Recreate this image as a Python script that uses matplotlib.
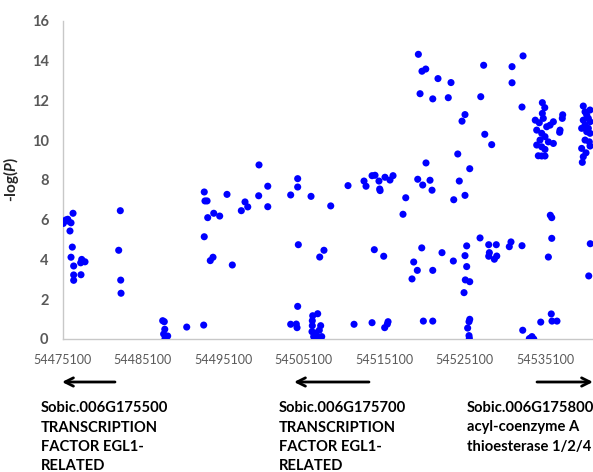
import matplotlib
matplotlib.use("Agg")
import matplotlib.pyplot as plt
from matplotlib.patches import FancyArrowPatch

plt.rcParams['font.family'] = ['Lato', 'DejaVu Sans']
plt.rcParams['mathtext.fontset'] = 'custom'
plt.rcParams['mathtext.bfit'] = 'Lato:bold:italic'

# SNP positions (bp) on chromosome 6 and their -log10(P)
position = [
    54475200, 54475500, 54475750, 54476160, 54476410, 54476030, 54476320, 54476160,
    54476490, 54477490, 54477360, 54477900, 54476490, 54476490, 54477400, 54475800,
    54482290, 54482090, 54482340, 54482380, 54487560, 54487760, 54487820, 54487680,
    54488180, 54487850, 54490550,
    54499540, 54492730, 54492820, 54493080, 54495560, 54500630, 54499500, 54497800,
    54497340, 54498140, 54500630, 54493910, 54494650, 54493160, 54492730, 54493820,
    54493480, 54496220, 54492660,
    54504350, 54504350, 54503480, 54506010, 54508460, 54510610, 54512600, 54512850,
    54513600, 54513970, 54514460, 54514550, 54514600, 54515210, 54515830, 54516210,
    54504430, 54507620, 54507090, 54513880, 54515050, 54504350, 54503480, 54504180,
    54504270, 54506840, 54506220, 54506170, 54506170, 54506130, 54506340, 54506470,
    54506720, 54507210, 54507040, 54507340, 54507040, 54511360, 54513600, 54515590,
    54515500, 54515170, 54506570, 54506880,
    54519360, 54519810, 54520280, 54521800, 54523420, 54519570, 54521150, 54523080,
    54527480, 54531010, 54532380, 54531010, 54527120, 54532250, 54525160, 54524790,
    54527620, 54528480, 54524260, 54520310, 54525750, 54519280, 54519900, 54520810,
    54521060, 54523760, 54525160, 54524450, 54517790, 54517450, 54527030, 54528110,
    54529050, 54530880, 54530670, 54532250, 54519780, 54525370, 54522300, 54525160,
    54528190, 54528110, 54529110, 54528810, 54518780, 54523710, 54519230, 54521150,
    54525370, 54518570, 54525200, 54525750, 54525040, 54519980, 54521150, 54525750,
    54525660, 54525490, 54525660, 54525700, 54532340, 54533160, 54533330, 54533710,
    54533490, 54534580, 54535890, 54535980, 54536600, 54535530, 54535950, 54535770,
    54535950, 54540740, 54540550,
    54534780, 54535080, 54534780, 54533900, 54534400, 54534900, 54536150, 54537310,
    54537260, 54534080, 54535320, 54535740, 54536980, 54536930, 54534700, 54535110,
    54534490, 54535530, 54536150, 54534080, 54534700, 54535110, 54534280, 54534700,
    54535110,
    54539870, 54540710, 54540090, 54540300, 54540500, 54539870, 54540710, 54540090,
    54539670, 54540500, 54540300, 54540710, 54540090, 54540620, 54540710, 54539670,
    54540210, 54539870, 54539750,
]

neg_log_p = [
    5.81, 5.98, 6.02, 5.84, 6.32, 5.43, 4.62, 4.11,
    3.67, 4.00, 3.83, 3.88, 3.22, 2.95, 3.23, 5.93,
    6.45, 4.46, 2.96, 2.30, 0.92, 0.87, 0.49, 0.25,
    0.15, 0.02, 0.60,
    8.75, 7.39, 6.94, 6.94, 7.27, 7.68, 7.20, 6.89,
    6.45, 6.64, 6.65, 6.32, 6.18, 6.10, 5.14, 4.11,
    3.94, 3.72, 0.70,
    8.06, 7.64, 7.24, 7.17, 6.69, 7.71, 7.94, 7.68,
    8.21, 8.23, 7.94, 7.54, 7.46, 8.13, 7.99, 8.21,
    4.74, 4.46, 4.12, 4.49, 4.16, 1.64, 0.74, 0.75,
    0.57, 1.27, 1.17, 0.92, 0.67, 0.37, 0.12, 0.00,
    0.15, 0.67, 0.44, 0.12, 0.00, 0.74, 0.82, 0.87,
    0.75, 0.57, 0.30, 0.05,
    14.31, 13.46, 13.57, 13.09, 12.89, 12.33, 12.07, 12.13,
    13.76, 13.69, 14.23, 12.88, 12.18, 11.66, 11.28, 10.95,
    10.29, 9.77, 9.30, 8.85, 8.56, 8.03, 7.74, 7.98,
    7.48, 7.00, 7.22, 7.94, 7.10, 6.27, 5.08, 4.74,
    4.74, 4.88, 4.64, 4.69, 4.58, 4.68, 4.34, 4.19,
    4.34, 4.16, 4.17, 4.01, 3.87, 3.92, 3.45, 3.45,
    3.64, 3.02, 2.97, 2.88, 2.33, 0.90, 0.90, 0.99,
    0.87, 0.55, 0.17, 0.04, 0.44, 0.02, 0.04, 0.00,
    0.12, 0.85, 1.26, 0.90, 0.90, 4.12, 5.06, 6.22,
    6.10, 4.79, 3.17,
    11.88, 11.63, 11.34, 11.00, 10.87, 11.09, 10.92, 11.27,
    11.09, 10.50, 10.67, 10.75, 10.50, 10.39, 10.34, 10.17,
    10.00, 9.91, 9.83, 9.75, 9.66, 9.53, 9.21, 9.20,
    9.20,
    11.71, 11.51, 11.42, 11.26, 11.09, 11.00, 10.92, 10.75,
    10.59, 10.59, 10.42, 10.34, 10.00, 9.91, 9.70, 9.58,
    9.36, 9.16, 8.88,
]

x_ticks = [54475100, 54485100, 54495100, 54505100, 54515100, 54525100, 54535100]
y_ticks = [0, 2, 4, 6, 8, 10, 12, 14, 16]

# gene annotations: (label, text anchor x, arrow tail x, arrow head x) in figure pixels
genes = [
    ("Sobic.006G175500\nTRANSCRIPTION\nFACTOR EGL1-\nRELATED", 41, 115, 62),
    ("Sobic.006G175700\nTRANSCRIPTION\nFACTOR EGL1-\nRELATED", 279, 369, 294),
    ("Sobic.006G175800\nacyl-coenzyme A\nthioesterase 1/2/4", 467, 537, 593),
]

W, H = 593, 472
fig = plt.figure(figsize=(W / 100, H / 100), dpi=100)
ax = fig.add_axes([62.5 / W, 1 - 339 / H, 1 - 62.5 / W, (339 - 20.7) / H])

ax.scatter(position, neg_log_p, s=26, color="#0000FF", edgecolors="none", zorder=3)

ax.set_xlim(54475100, 54541080)
ax.set_ylim(0, 16)
ax.set_xticks(x_ticks)
ax.set_xticklabels([str(v) for v in x_ticks])
ax.set_yticks(y_ticks)
ax.set_yticklabels([str(v) for v in y_ticks])

for side in ("top", "right"):
    ax.spines[side].set_visible(False)
for side in ("left", "bottom"):
    ax.spines[side].set_color("#C8C8C8")
    ax.spines[side].set_linewidth(1.0)

ax.tick_params(axis="x", length=0, pad=10.5, labelsize=9, labelcolor="#595959")
ax.tick_params(axis="y", length=0, pad=10, labelsize=10.5, labelcolor="#595959")
for lab in ax.get_yticklabels():
    lab.set_fontweight("bold")

ax.set_ylabel(r"-log($\mathbfit{P}$)", fontsize=11, fontweight="bold", color="#262626", labelpad=8)

# gene direction arrows and descriptions below the axis
for label, tx, x0, x1 in genes:
    fig.add_artist(FancyArrowPatch(
        (x0 / W, 1 - 382 / H), (x1 / W, 1 - 382 / H),
        transform=fig.transFigure, arrowstyle="->,head_length=6,head_width=3",
        mutation_scale=1, color="black", lw=2.0, shrinkA=0, shrinkB=0))
    fig.text(tx / W, 1 - 401 / H, label, ha="left", va="top", fontsize=10.6,
             fontweight="bold", color="black", linespacing=1.5)

fig.savefig("out.png", dpi=100, facecolor="white")
